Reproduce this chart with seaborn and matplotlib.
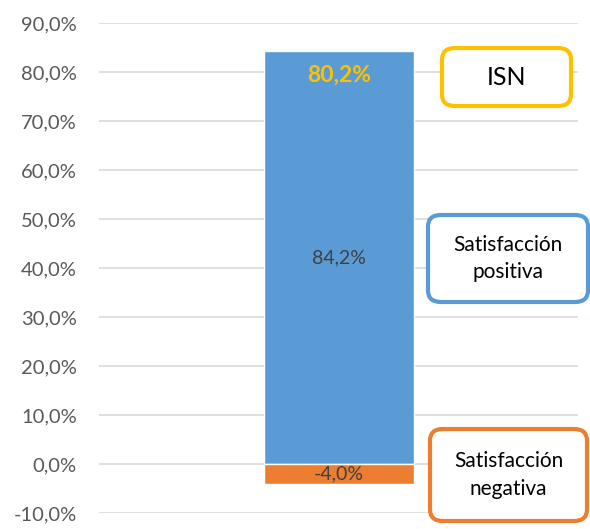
import pandas as pd
import matplotlib.pyplot as plt
import seaborn as sns
from matplotlib.patches import FancyBboxPatch

# Data
category = ['ISN']
positiva = [84.2]
negativa = [-4.0]
isn = [80.2]
yticks = [-10, 0, 10, 20, 30, 40, 50, 60, 70, 80, 90]

blue = '#5B9BD5'
orange = '#ED7D31'
yellow = '#FFC000'
grey = '#595959'

sns.set_style('white')
plt.rcParams['font.family'] = ['Lato', 'DejaVu Sans']

df = pd.DataFrame({'cat': category, 'pos': positiva, 'neg': negativa})

fig = plt.figure(figsize=(5.9, 5.29), dpi=100)
ax = fig.add_axes([0.168, 0.030, 0.812, 0.9265])

sns.barplot(data=df, x='cat', y='pos', color=blue, saturation=1, width=0.313, ax=ax, zorder=3)
sns.barplot(data=df, x='cat', y='neg', color=orange, saturation=1, width=0.313, ax=ax, zorder=3)

ax.set_xlim(-0.5, 0.5)
ax.set_ylim(-10, 90)
ax.set_yticks(yticks)
ax.set_yticklabels([f'{v:.1f}%'.replace('.', ',') for v in yticks], fontsize=14.5, color=grey)
ax.set_xticks([])
ax.set_xlabel('')
ax.set_ylabel('')
ax.tick_params(axis='y', length=0, pad=16)
ax.grid(axis='y', color='#D9D9D9', linewidth=1.2, zorder=0)
ax.set_axisbelow(True)
for s in ax.spines.values():
    s.set_visible(False)

# data labels
ax.text(0, positiva[0] / 2, f'{positiva[0]:.1f}%'.replace('.', ','), ha='center', va='center',
        fontsize=14, color='#404040', zorder=5)
ax.text(0, negativa[0] / 2, f'{negativa[0]:.1f}%'.replace('.', ','), ha='center', va='center',
        fontsize=14, color='#404040', zorder=5)
ax.text(0, 79.4, f'{isn[0]:.1f}%'.replace('.', ','), ha='center', va='center',
        fontsize=16.5, fontweight='bold', color=yellow, zorder=5)

# boxes (pixel coords from top-left)
W, H = 590, 529


def box(x0, y0, x1, y1, edge, label, size):
    p = FancyBboxPatch((x0 / W, 1 - y1 / H), (x1 - x0) / W, (y1 - y0) / H,
                       boxstyle='round,pad=0,rounding_size=0.022',
                       transform=fig.transFigure, facecolor='white', edgecolor=edge,
                       linewidth=3, clip_on=False, zorder=10)
    fig.patches.append(p)
    fig.text((x0 + x1) / 2 / W, 1 - (y0 + y1) / 2 / H, label, ha='center', va='center',
             fontsize=size, color='black', linespacing=1.45, zorder=11)


box(442, 48, 571, 106, yellow, 'ISN', 18)
box(428, 215, 588, 302, blue, 'Satisfacción\npositiva', 15)
box(430, 429, 587, 521, orange, 'Satisfacción\nnegativa', 15)

plt.savefig('out.png', dpi=100)
